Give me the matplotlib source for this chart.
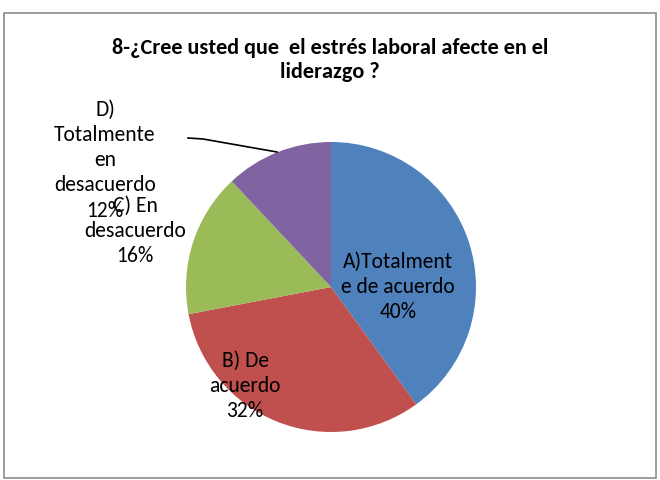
import matplotlib
matplotlib.use("Agg")
import matplotlib.pyplot as plt
from matplotlib.patches import Rectangle

categories = ["A)Totalment\ne de acuerdo", "B) De\nacuerdo", "C) En\ndesacuerdo", "D)\nTotalmente\nen\ndesacuerdo"]
values = [40, 32, 16, 12]
colors = ["#4F81BD", "#C0504D", "#9BBB59", "#8064A2"]
title = "8-¿Cree usted que  el estrés laboral afecte en el\nliderazgo ?"

plt.rcParams['font.family'] = ['Liberation Sans Narrow', 'Carlito', 'Open Sans', 'DejaVu Sans']

W, H = 660, 480
fig = plt.figure(figsize=(6.6, 4.8), dpi=100)
ax = fig.add_axes([0, 0, 1, 1])
ax.set_xlim(0, W)
ax.set_ylim(0, H)
ax.set_aspect('equal')
ax.axis('off')

# border
ax.add_patch(Rectangle((3.5, 2), 652, 465.5, fill=False, edgecolor="#8c8c8c", lw=1.2))

cx, cy, r = 331, H - 287, 145
ax.pie(values, colors=colors, startangle=90, counterclock=False,
       center=(cx, cy), radius=r, frame=True,
       wedgeprops=dict(linewidth=0))
ax.set_xlim(0, W)
ax.set_ylim(0, H)
ax.axis('off')

total = sum(values)
label_pos = [(398, 287), (245, 386), (135, 231), (105, 160)]
for cat, v, (x, y) in zip(categories, values, label_pos):
    ax.text(x, H - y, f"{cat}\n{round(100 * v / total)}%", ha='center', va='center',
            fontsize=15.5, linespacing=1.33, color='black')

# leader line for D
ax.plot([188, 203, 277], [H - 138, H - 139, H - 152], color='black', lw=1.2)

ax.text(330, H - 60, title, ha='center', va='center', fontsize=16, fontweight='bold',
        linespacing=1.2)

fig.savefig("out.png", dpi=100)
